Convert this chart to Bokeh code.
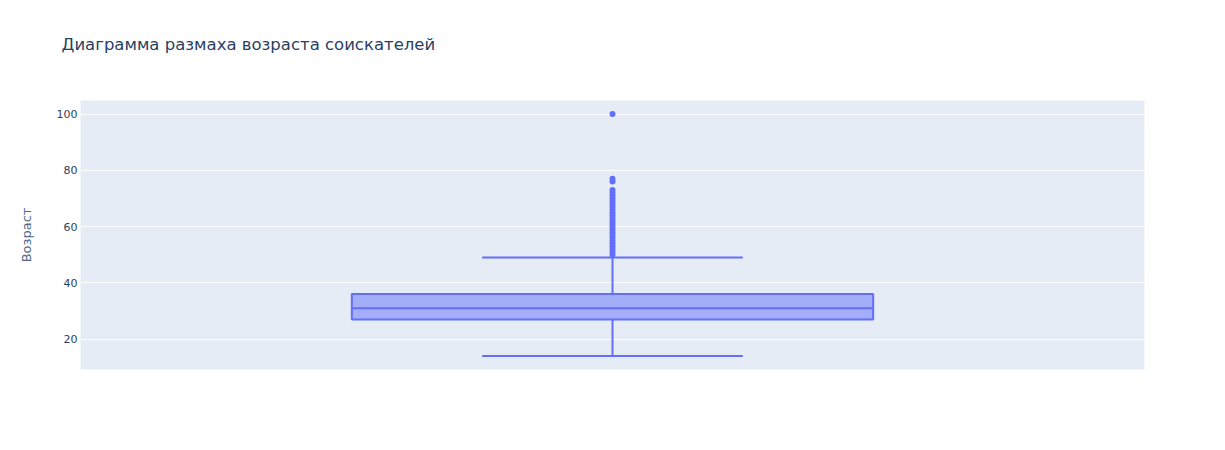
from bokeh.plotting import figure
from bokeh.models import Range1d, ColumnDataSource, Title
from bokeh.embed import file_html
from bokeh.resources import INLINE

title_text = "Диаграмма размаха возраста соискателей"
y_label = "Возраст"
y_ticks = [20, 40, 60, 80, 100]

# box statistics
category_x = [0.0]
q1 = [27]
median = [31]
q3 = [36]
lower_fence = [14]
upper_fence = [49]
outliers = list(range(50, 74)) + [76, 77, 100]

box_width = 0.49
whisker_width = 0.245
color = "#636efa"
font = "DejaVu Sans"

p = figure(width=1225, height=450, output_backend="svg", toolbar_location=None,
           x_range=Range1d(-0.5, 0.5), y_range=Range1d(9.2, 104.8),
           min_border_left=80, min_border_right=81, min_border_top=100, min_border_bottom=81,
           background_fill_color="#E5ECF6", border_fill_color="white", outline_line_color=None)
p.title = None

# spacer between title and plot frame (added first -> nearest the frame)
spacer = Title(text=" ", text_font_size="1px", standoff=39)
p.add_layout(spacer, "above")
main_title = Title(text=title_text, text_font=font, text_font_size="16.5px",
                   text_font_style="normal", text_color="#2a3f5f", offset=-19, standoff=10)
p.add_layout(main_title, "above")

p.xaxis.visible = False
p.xgrid.visible = False
p.ygrid.grid_line_color = "white"
p.ygrid.grid_line_width = 1
p.yaxis.ticker = y_ticks
p.yaxis.axis_line_color = None
p.yaxis.major_tick_line_color = None
p.yaxis.minor_tick_line_color = None
p.yaxis.major_tick_out = 0
p.yaxis.major_tick_in = 0
p.yaxis.minor_tick_out = 0
p.yaxis.major_label_text_font = font
p.yaxis.major_label_text_font_size = "11px"
p.yaxis.major_label_text_color = "#2a3f5f"
p.yaxis.major_label_standoff = 3
p.yaxis.axis_label = y_label
p.yaxis.axis_label_text_font = font
p.yaxis.axis_label_text_font_size = "13px"
p.yaxis.axis_label_text_font_style = "normal"
p.yaxis.axis_label_text_color = "#506784"
p.yaxis.axis_label_standoff = 20

src = ColumnDataSource(dict(
    x=category_x, q1=q1, med=median, q3=q3, lo=lower_fence, hi=upper_fence,
    x0=[c - box_width / 2 for c in category_x], x1=[c + box_width / 2 for c in category_x],
    w0=[c - whisker_width / 2 for c in category_x], w1=[c + whisker_width / 2 for c in category_x],
))

# whisker stems
p.segment(x0="x", y0="q3", x1="x", y1="hi", source=src, line_color=color, line_width=2)
p.segment(x0="x", y0="q1", x1="x", y1="lo", source=src, line_color=color, line_width=2)
# whisker caps
p.segment(x0="w0", y0="hi", x1="w1", y1="hi", source=src, line_color=color, line_width=2)
p.segment(x0="w0", y0="lo", x1="w1", y1="lo", source=src, line_color=color, line_width=2)
# box
p.quad(left="x0", right="x1", bottom="q1", top="q3", source=src,
       fill_color=color, fill_alpha=0.5, line_color=color, line_width=2)
# median
p.segment(x0="x0", y0="med", x1="x1", y1="med", source=src, line_color=color, line_width=2)
# outliers
p.scatter(x=[category_x[0]] * len(outliers), y=outliers, size=6,
          fill_color=color, line_color=color, line_width=0)

open("out.html", "w").write(file_html(p, INLINE))
